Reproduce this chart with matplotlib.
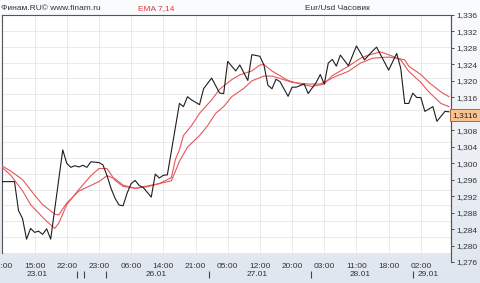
import numpy as np
import matplotlib
matplotlib.use("Agg")
import matplotlib.pyplot as plt
import matplotlib.transforms as mtransforms
from matplotlib.colors import LinearSegmentedColormap

plt.rcParams['font.family'] = ['Liberation Sans', 'DejaVu Sans']

# ---- data (hourly bar index, EUR/USD) ----
price_bars = [0, 3, 4, 5, 6, 7, 8, 9, 10, 11, 12, 15, 16, 17, 18, 19, 20, 21, 22, 24,
              25, 26, 27, 28, 29, 30, 31, 32, 33, 34, 35, 37, 38, 39, 40, 41, 44, 45, 46, 47,
              49, 50, 52, 54, 55, 56, 58, 59, 61, 62, 64, 65, 66, 67, 68, 69, 71, 72, 73, 75,
              76, 78, 79, 80, 81, 82, 83, 84, 86, 88, 90, 92, 93, 96, 98, 99, 100, 101, 102, 103,
              104, 105, 107, 108, 110, 111]
price = [1.2940, 1.2940, 1.2867, 1.2847, 1.2795, 1.2822, 1.2812, 1.2815, 1.2807, 1.2821,
         1.2795, 1.3020, 1.2986, 1.2976, 1.2980, 1.2977, 1.2981, 1.2976, 1.2990, 1.2988,
         1.2982, 1.2955, 1.2923, 1.2898, 1.2881, 1.2879, 1.2911, 1.2935, 1.2943, 1.2930,
         1.2925, 1.2901, 1.2959, 1.2949, 1.2956, 1.2957, 1.3137, 1.3129, 1.3154, 1.3146,
         1.3134, 1.3174, 1.3201, 1.3163, 1.3162, 1.3243, 1.3219, 1.3234, 1.3195, 1.3260,
         1.3256, 1.3234, 1.3183, 1.3174, 1.3198, 1.3192, 1.3155, 1.3178, 1.3178, 1.3186,
         1.3162, 1.3190, 1.3210, 1.3186, 1.3239, 1.3248, 1.3231, 1.3259, 1.3232, 1.3282,
         1.3247, 1.3269, 1.3279, 1.3221, 1.3263, 1.3226, 1.3137, 1.3137, 1.3163, 1.3152,
         1.3152, 1.3117, 1.3129, 1.3092, 1.3117, 1.3116]

ema7_bars = [0, 2, 5, 7, 10, 12, 13, 14, 16, 19, 22, 24, 26, 28, 30, 33, 35, 39, 42, 43,
             44, 45, 47, 49, 52, 54, 57, 59, 62, 64, 65, 67, 71, 74, 77, 80, 82, 86, 89, 91,
             94, 97, 99, 101, 104, 106, 109, 111]
ema7 = [1.2975, 1.2957, 1.2917, 1.2882, 1.2850, 1.2831, 1.2822, 1.2835, 1.2882, 1.2920,
        1.2955, 1.2973, 1.2973, 1.2943, 1.2928, 1.2923, 1.2927, 1.2935, 1.2950, 1.2996,
        1.3020, 1.3056, 1.3081, 1.3112, 1.3146, 1.3173, 1.3197, 1.3209, 1.3219, 1.3234,
        1.3235, 1.3219, 1.3195, 1.3186, 1.3180, 1.3186, 1.3207, 1.3231, 1.3251, 1.3259,
        1.3267, 1.3256, 1.3247, 1.3218, 1.3190, 1.3166, 1.3137, 1.3129]

ema14_bars = [0, 2, 5, 8, 10, 13, 14, 16, 19, 24, 26, 28, 30, 33, 36, 39, 42, 44, 46, 49,
              51, 53, 55, 57, 60, 62, 65, 67, 69, 72, 76, 79, 83, 86, 89, 92, 96, 98, 100, 101,
              104, 106, 109, 111]
ema14 = [1.2979, 1.2967, 1.2945, 1.2906, 1.2882, 1.2858, 1.2856, 1.2886, 1.2916, 1.2940,
         1.2955, 1.2947, 1.2931, 1.2923, 1.2927, 1.2935, 1.2942, 1.2991, 1.3027, 1.3056,
         1.3081, 1.3112, 1.3129, 1.3154, 1.3175, 1.3194, 1.3206, 1.3206, 1.3200, 1.3190,
         1.3186, 1.3186, 1.3206, 1.3218, 1.3239, 1.3251, 1.3254, 1.3251, 1.3247, 1.3231,
         1.3210, 1.3190, 1.3166, 1.3154]

time_ticks = [0, 8, 16, 24, 32, 40, 48, 56, 64, 72, 80, 88, 96, 104]
time_labels = ["07:00", "15:00", "22:00", "23:00", "06:00", "14:00", "21:00",
               "05:00", "12:00", "20:00", "03:00", "11:00", "18:00", "02:00"]
date_pos = [8.6, 38.2, 63.4, 88.8, 105.7]
date_labels = ["23.01", "26.01", "27.01", "28.01", "29.01"]
day_breaks = [18.5, 20.3, 25.7, 51.3, 76.7, 102.0]
y_ticks = [1.276, 1.280, 1.284, 1.288, 1.292, 1.296, 1.300, 1.304, 1.308,
           1.312, 1.316, 1.320, 1.324, 1.328, 1.332, 1.336]

W, H = 480, 283
def fx(px): return px / W
def fy(py): return 1 - py / H

fig = plt.figure(figsize=(W / 100, H / 100), dpi=100)

# background gradient
bg = fig.add_axes([0, 0, 1, 1], zorder=-10)
cmap = LinearSegmentedColormap.from_list("bg", ["#fbfcfd", "#dfe6ef"])
bg.imshow(np.linspace(0, 1, 256).reshape(-1, 1), aspect='auto', cmap=cmap,
          extent=[0, 1, 0, 1])
bg.axis('off')

# main plot
ax = fig.add_axes([fx(2), fy(253), fx(451) - fx(2), fy(15) - fy(253)])
ax.set_facecolor('white')
ax.set_xlim(-0.1, 111.5)
ax.set_ylim(1.336 - (253 - 15) / 247 * 0.06, 1.336)
ax.plot(ema14_bars, ema14, color='#e5575b', lw=0.8, zorder=3)
ax.plot(ema7_bars, ema7, color='#e5575b', lw=0.8, zorder=3)
ax.plot(price_bars, price, color='#1e1e1e', lw=0.8, zorder=4)

ax.set_yticks(y_ticks)
ax.tick_params(axis='y', length=0, labelleft=False)
ax.set_xticks(time_ticks, time_labels)
ax.tick_params(axis='x', length=0, pad=7, labelsize=6, colors='#333333')
ax.grid(True, color='#e6e6e6', lw=0.6)
ax.set_axisbelow(True)
for s in ['left', 'top', 'right']:
    ax.spines[s].set_color('#555555')
    ax.spines[s].set_linewidth(0.8)
ax.spines['bottom'].set_visible(False)

tr = mtransforms.blended_transform_factory(ax.transData, ax.transAxes)
for p, lab in zip(date_pos, date_labels):
    ax.text(p, -0.092, lab, transform=tr, ha='center', va='center',
            fontsize=6, color='#333333', clip_on=False)
ax.vlines(day_breaks, -0.105, -0.077, transform=tr, colors='#444444',
          lw=0.8, clip_on=False)

# right price scale
last = price[-1]
ax2 = fig.add_axes([fx(2), fy(262), fx(451) - fx(2), fy(15) - fy(262)])
ax2.patch.set_alpha(0)
ax2.set_ylim(1.276, 1.336)
ax2.set_xlim(0, 1)
ax2.set_xticks([])
for s in ['left', 'top', 'bottom']:
    ax2.spines[s].set_visible(False)
ax2.spines['right'].set_color('#555555')
ax2.spines['right'].set_linewidth(0.8)
ax2.yaxis.tick_right()
# the tick label hidden under the last-price marker is left blank
ax2.set_yticks(y_ticks, ["" if abs(v - last) < 0.002 else f"{v:.3f}".replace('.', ',')
                         for v in y_ticks])
ax2.tick_params(axis='y', length=2.5, width=0.6, pad=1.5, labelsize=6,
                colors='#333333')

tr2 = mtransforms.blended_transform_factory(ax2.transAxes, ax2.transData)
ax2.text(1.004, last, f"{last:.4f}".replace('.', ','), transform=tr2,
         ha='left', va='center', fontsize=6, color='#222222', zorder=10,
         clip_on=False,
         bbox=dict(boxstyle='square,pad=0.3', fc='#f9c28f', ec='#9a5a2a', lw=0.6))

# header texts
fig.text(fx(1), fy(9), "Финам.RU© www.finam.ru", ha='left', va='center',
         fontsize=6, color='#333333')
fig.text(fx(138), fy(9), "EMA 7,14", ha='left', va='center',
         fontsize=6, color='#e0393e')
fig.text(fx(337), fy(9), "Eur/Usd Часовик", ha='center', va='center',
         fontsize=6, color='#333333')

fig.savefig('out.png', dpi=100)
